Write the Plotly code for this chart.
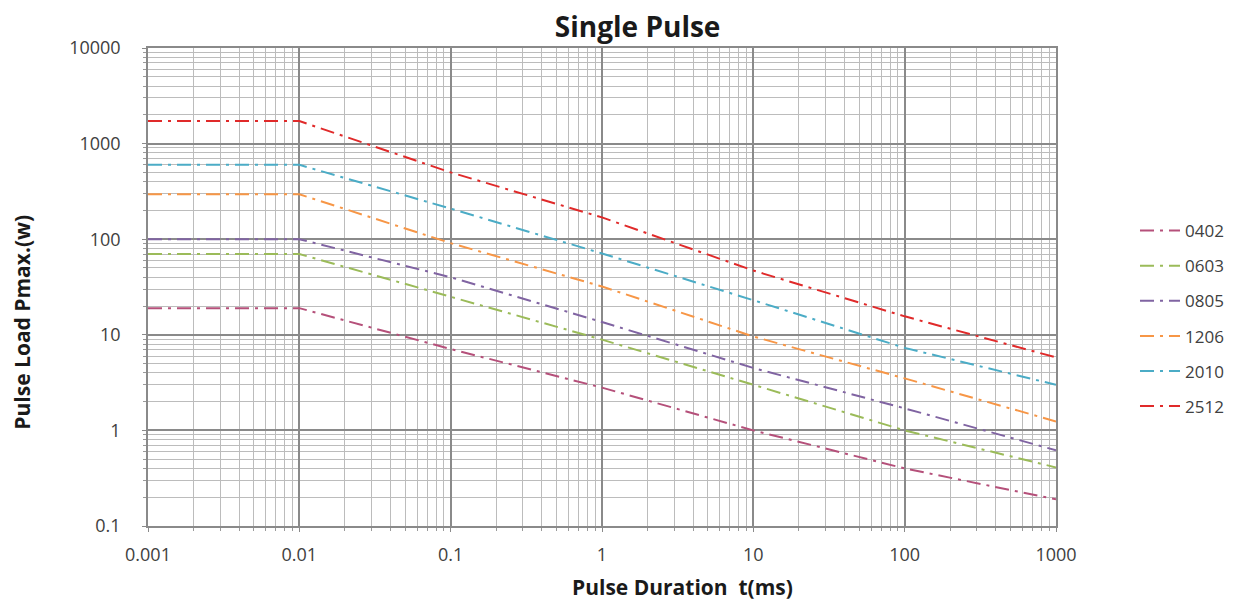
import plotly.graph_objects as go

# Pulse duration (ms)
durations = [0.001, 0.01, 0.1, 1, 10, 100, 1000]

series_names = ["0402", "0603", "0805", "1206", "2010", "2512"]
p_0402 = [19, 19, 7.1, 2.8, 1.0, 0.40, 0.19]
p_0603 = [70, 70, 25, 8.9, 3.0, 1.0, 0.41]
p_0805 = [100, 100, 40, 13.6, 4.5, 1.7, 0.62]
p_1206 = [295, 295, 91, 32, 9.6, 3.5, 1.24]
p_2010 = [600, 600, 209, 71, 23, 7.3, 3.0]
p_2512 = [1720, 1720, 500, 169, 47, 15.6, 5.8]
series_values = [p_0402, p_0603, p_0805, p_1206, p_2010, p_2512]
colors = ["#B5507A", "#9BBB59", "#8064A2", "#F79646", "#4BACC6", "#E02A2A"]

x_tickvals = [0.001, 0.01, 0.1, 1, 10, 100, 1000]
x_ticktext = ["0.001", "0.01", "0.1", "1", "10", "100", "1000"]
y_tickvals = [0.1, 1, 10, 100, 1000, 10000]
y_ticktext = ["0.1", "1", "10", "100", "1000", "10000"]

fig = go.Figure()
for name, vals, col in zip(series_names, series_values, colors):
    fig.add_trace(go.Scatter(
        x=durations, y=vals, mode="lines", name=name, legendgroup=name,
        line=dict(color=col, width=2, dash="14px,6px,3px,6px"),
    ))

font_family = "Open Sans, Liberation Sans, sans-serif"
axis_common = dict(
    type="log",
    showgrid=True, gridcolor="#8a8a8a", gridwidth=1.5,
    showline=True, linecolor="#8a8a8a", linewidth=1.5, mirror=True,
    zeroline=False,
    ticks="outside", ticklen=4, tickcolor="#8a8a8a",
    tickfont=dict(family=font_family, size=18, color="#404040"),
    minor=dict(showgrid=True, gridcolor="#bcbcbc", gridwidth=1.2, dtick="D1",
               ticks="outside", ticklen=3, tickcolor="#9a9a9a"),
)

fig.update_layout(
    width=1237, height=603,
    paper_bgcolor="white", plot_bgcolor="white",
    margin=dict(l=140, r=189, t=40, b=85),
    title=dict(text="<b>Single Pulse</b>", x=0.509, xanchor="center", y=0.985, yanchor="top",
               font=dict(family=font_family, size=28, color="#1a1a1a")),
    xaxis=dict(axis_common, range=[-3, 3], tickvals=x_tickvals, ticktext=x_ticktext,
               ticklabelstandoff=8),
    yaxis=dict(axis_common, range=[-1, 4], tickvals=y_tickvals, ticktext=y_ticktext,
               ticklabelstandoff=18),
    annotations=[
        dict(text="<b>Pulse Duration  t(ms)</b>", xref="paper", yref="paper",
             x=0.589, y=-0.128, xanchor="center", yanchor="middle", showarrow=False,
             font=dict(family=font_family, size=21, color="#1a1a1a")),
        dict(text="<b>Pulse Load Pmax.(w)</b>", xref="paper", yref="paper",
             x=-0.139, y=0.427, xanchor="center", yanchor="middle", showarrow=False,
             textangle=-90,
             font=dict(family=font_family, size=21, color="#1a1a1a")),
    ],
    legend=dict(x=1.087, y=0.434, xanchor="left", yanchor="middle",
                font=dict(family=font_family, size=17, color="#404040"),
                tracegroupgap=10, itemwidth=40, bgcolor="rgba(0,0,0,0)"),
    showlegend=True,
)

fig.write_html("out.html")
